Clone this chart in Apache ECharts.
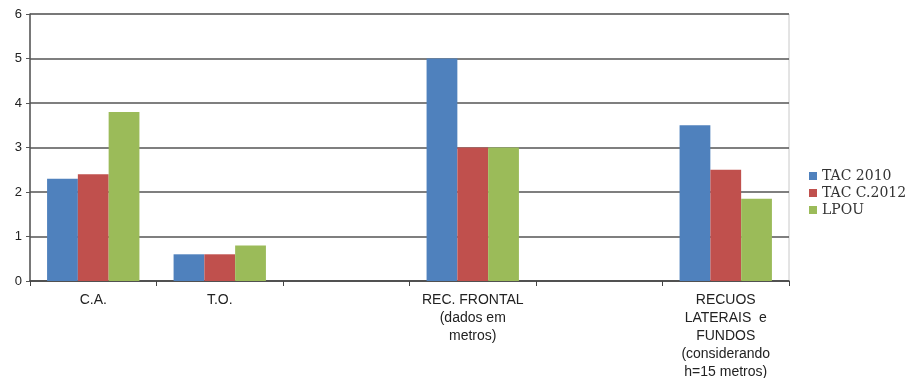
<!DOCTYPE html>
<html>
<head>
<meta charset="utf-8">
<script src="https://cdn.jsdelivr.net/npm/echarts@6/dist/echarts.min.js"></script>
<style>
html,body{margin:0;padding:0;background:#fff;}
#chart{width:912px;height:378px;}
</style>
</head>
<body>
<div id="chart"></div>
<script>
// Categories (empty slots keep the spacing between groups)
var categories = [
  'C.A.',
  'T.O.',
  '',
  'REC. FRONTAL\n(dados em\nmetros)',
  '',
  'RECUOS\nLATERAIS  e\nFUNDOS\n(considerando\nh=15 metros)'
];
var seriesNames = ['TAC 2010', 'TAC C.2012', 'LPOU'];
var tac2010  = [2.3, 0.6, null, 5.0, null, 3.5];
var tacC2012 = [2.4, 0.6, null, 3.0, null, 2.5];
var lpou     = [3.8, 0.8, null, 3.0, null, 1.85];
var yTicks = { min: 0, max: 6, interval: 1 };
var colors = ['#4F81BD', '#C0504D', '#9BBB59'];

var chart = echarts.init(document.getElementById('chart'), null, { renderer: 'canvas' });

function bar(name, data, color) {
  return {
    name: name,
    type: 'bar',
    data: data,
    barGap: '0%',
    barCategoryGap: '27%',
    itemStyle: { color: color },
    emphasis: { disabled: true }
  };
}

chart.setOption({
  animation: false,
  backgroundColor: '#fff',
  grid: {
    left: 30, right: 123, top: 14, bottom: 97,
    containLabel: false, outerBoundsMode: 'none',
    show: true, borderColor: '#c8c8c8', borderWidth: 1
  },
  legend: {
    orient: 'vertical',
    left: 804, top: 163,
    itemWidth: 8, itemHeight: 8, itemGap: 1,
    icon: 'rect',
    textStyle: {
      fontFamily: 'DejaVu Serif', fontSize: 14, color: '#333', lineHeight: 16
    },
    data: seriesNames
  },
  xAxis: {
    type: 'category',
    data: categories,
    axisLine: { lineStyle: { color: '#444', width: 1.5 } },
    axisTick: { show: true, length: 5, alignWithLabel: false, interval: 0, lineStyle: { color: '#444' } },
    axisLabel: {
      interval: 0, margin: 10,
      fontFamily: 'Liberation Sans', fontSize: 14, color: '#222', lineHeight: 18
    }
  },
  yAxis: {
    type: 'value',
    min: yTicks.min, max: yTicks.max, interval: yTicks.interval,
    axisLine: { show: true, lineStyle: { color: '#555', width: 1.5 } },
    axisTick: { show: true, length: 4, lineStyle: { color: '#555' } },
    axisLabel: { fontFamily: 'Liberation Sans', fontSize: 13, color: '#222', margin: 8 },
    splitLine: { show: true, lineStyle: { color: '#555', width: 1.5 } }
  },
  series: [
    bar(seriesNames[0], tac2010, colors[0]),
    bar(seriesNames[1], tacC2012, colors[1]),
    bar(seriesNames[2], lpou, colors[2])
  ]
});
</script>
</body>
</html>
